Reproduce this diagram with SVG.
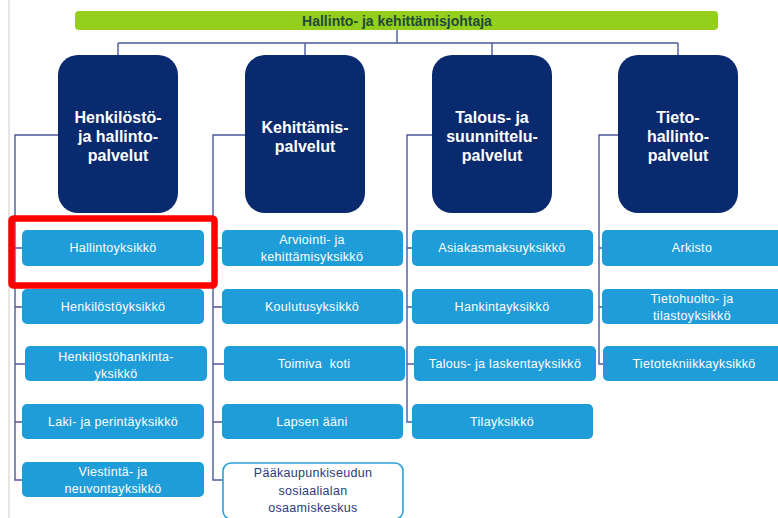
<svg xmlns="http://www.w3.org/2000/svg" width="778" height="518" viewBox="0 0 778 518">
  <style>
    .top { fill: #93cf1c; }
    .topText { font: bold 14px "Liberation Sans", Arial, sans-serif; fill: #1f4a3a; text-anchor: middle; }
    .dept { fill: #0a2a70; }
    .deptText { font: bold 16px "Liberation Sans", Arial, sans-serif; fill: #ffffff; text-anchor: middle; }
    .unit { fill: #1f9dd9; }
    .unitText { font: 12.5px "Liberation Sans", Arial, sans-serif; fill: #ffffff; text-anchor: middle; letter-spacing: 0.3px; }
    .unitOpen { fill: #ffffff; stroke: #2aa0d8; stroke-width: 1.6; }
    .unitOpenText { font: 12.5px "Liberation Sans", Arial, sans-serif; fill: #2b3a7c; text-anchor: middle; letter-spacing: 0.3px; }
    .link { fill: none; stroke: #4b5a9c; stroke-width: 1.4; }
    .edge { stroke: #d6d6d6; stroke-width: 1.2; }
    .mark { fill: none; stroke: #ff0000; stroke-width: 6.5; }
  </style>

  <rect width="778" height="518" fill="#ffffff"/>
  <line class="edge" x1="9" y1="0" x2="9" y2="518"/>

  <!-- connectors -->
  <g id="connectors">
    <path class="link" d="M397 30 V43 M118 43 H678 M118 43 V55 M305 43 V55 M492 43 V55 M678 43 V55"/>
    <!-- Henkilöstö- ja hallintopalvelut -->
    <path class="link" d="M58 135 H15 V480 H22 M15 248 H22 M15 307 H22 M15 364 H25 M15 422 H22"/>
    <!-- Kehittämispalvelut -->
    <path class="link" d="M245 135 H213 V480 H223 M213 248 H222 M213 307 H222 M213 364 H224 M213 422 H222"/>
    <!-- Talous- ja suunnittelupalvelut -->
    <path class="link" d="M432 135 H407 V422 H412 M407 248 H412 M407 307 H412 M407 364 H414"/>
    <!-- Tietohallintopalvelut -->
    <path class="link" d="M618 135 H599 V364 H603 M599 248 H602 M599 307 H602"/>
  </g>

  <g id="johtaja">
    <rect class="top" x="75" y="11" width="643" height="19" rx="4"/>
    <text class="topText" x="397" y="25.5">Hallinto- ja kehittämisjohtaja</text>
  </g>

  <g id="henkilosto-hallintopalvelut">
    <rect class="dept" x="58" y="55" width="120" height="158" rx="20"/>
    <text class="deptText" x="118" y="123">Henkilöstö-</text>
    <text class="deptText" x="118" y="142">ja hallinto-</text>
    <text class="deptText" x="118" y="161">palvelut</text>
  </g>
  <g id="kehittamispalvelut">
    <rect class="dept" x="245" y="55" width="120" height="158" rx="20"/>
    <text class="deptText" x="305" y="133">Kehittämis-</text>
    <text class="deptText" x="305" y="152">palvelut</text>
  </g>
  <g id="talous-suunnittelupalvelut">
    <rect class="dept" x="432" y="55" width="120" height="158" rx="20"/>
    <text class="deptText" x="492" y="123">Talous- ja</text>
    <text class="deptText" x="492" y="142">suunnittelu-</text>
    <text class="deptText" x="492" y="161">palvelut</text>
  </g>
  <g id="tietohallintopalvelut">
    <rect class="dept" x="618" y="55" width="120" height="158" rx="20"/>
    <text class="deptText" x="678" y="123">Tieto-</text>
    <text class="deptText" x="678" y="142">hallinto-</text>
    <text class="deptText" x="678" y="161">palvelut</text>
  </g>

  <!-- units, first column -->
  <g id="hallintoyksikko">
    <rect class="unit" x="22" y="230" width="182" height="36" rx="5"/>
    <text class="unitText" x="113" y="252">Hallintoyksikkö</text>
  </g>
  <g id="henkilostoyksikko">
    <rect class="unit" x="22" y="289" width="182" height="35" rx="5"/>
    <text class="unitText" x="113" y="311">Henkilöstöyksikkö</text>
  </g>
  <g id="henkilostohankintayksikko">
    <rect class="unit" x="25" y="346" width="182" height="35" rx="5"/>
    <text class="unitText" x="116" y="361">Henkilöstöhankinta-</text>
    <text class="unitText" x="116" y="378">yksikkö</text>
  </g>
  <g id="laki-perintayksikko">
    <rect class="unit" x="22" y="404" width="182" height="35" rx="5"/>
    <text class="unitText" x="113" y="426">Laki- ja perintäyksikkö</text>
  </g>
  <g id="viestinta-neuvontayksikko">
    <rect class="unit" x="22" y="462" width="182" height="35" rx="5"/>
    <text class="unitText" x="113" y="476">Viestintä- ja</text>
    <text class="unitText" x="113" y="493">neuvontayksikkö</text>
  </g>

  <!-- units, second column -->
  <g id="arviointi-kehittamisyksikko">
    <rect class="unit" x="222" y="230" width="181" height="36" rx="5"/>
    <text class="unitText" x="312" y="244">Arviointi- ja</text>
    <text class="unitText" x="312" y="261">kehittämisyksikkö</text>
  </g>
  <g id="koulutusyksikko">
    <rect class="unit" x="222" y="289" width="181" height="35" rx="5"/>
    <text class="unitText" x="312" y="311">Koulutusyksikkö</text>
  </g>
  <g id="toimiva-koti">
    <rect class="unit" x="224" y="346" width="181" height="35" rx="5"/>
    <text class="unitText" x="314" y="368" xml:space="preserve">Toimiva  koti</text>
  </g>
  <g id="lapsen-aani">
    <rect class="unit" x="222" y="404" width="181" height="35" rx="5"/>
    <text class="unitText" x="312" y="426">Lapsen ääni</text>
  </g>
  <g id="paakaupunkiseudun-osaamiskeskus">
    <rect class="unitOpen" x="223" y="463" width="180" height="56" rx="8"/>
    <text class="unitOpenText" x="313" y="477">Pääkaupunkiseudun</text>
    <text class="unitOpenText" x="313" y="495">sosiaalialan</text>
    <text class="unitOpenText" x="313" y="512">osaamiskeskus</text>
  </g>

  <!-- units, third column -->
  <g id="asiakasmaksuyksikko">
    <rect class="unit" x="412" y="230" width="181" height="36" rx="5"/>
    <text class="unitText" x="502" y="252">Asiakasmaksuyksikkö</text>
  </g>
  <g id="hankintayksikko">
    <rect class="unit" x="412" y="289" width="181" height="35" rx="5"/>
    <text class="unitText" x="502" y="311">Hankintayksikkö</text>
  </g>
  <g id="talous-laskentayksikko">
    <rect class="unit" x="414" y="346" width="182" height="35" rx="5"/>
    <text class="unitText" x="505" y="368">Talous- ja laskentayksikkö</text>
  </g>
  <g id="tilayksikko">
    <rect class="unit" x="412" y="404" width="181" height="35" rx="5"/>
    <text class="unitText" x="502" y="426">Tilayksikkö</text>
  </g>

  <!-- units, fourth column -->
  <g id="arkisto">
    <rect class="unit" x="602" y="230" width="182" height="36" rx="5"/>
    <text class="unitText" x="692" y="252">Arkisto</text>
  </g>
  <g id="tietohuolto-tilastoyksikko">
    <rect class="unit" x="602" y="289" width="182" height="35" rx="5"/>
    <text class="unitText" x="692" y="303">Tietohuolto- ja</text>
    <text class="unitText" x="692" y="320">tilastoyksikkö</text>
  </g>
  <g id="tietotekniikkayksikko">
    <rect class="unit" x="603" y="346" width="182" height="35" rx="5"/>
    <text class="unitText" x="694" y="368">Tietotekniikkayksikkö</text>
  </g>

  <!-- highlight frame -->
  <rect class="mark" x="11.5" y="218.5" width="203" height="67" rx="2"/>
</svg>
